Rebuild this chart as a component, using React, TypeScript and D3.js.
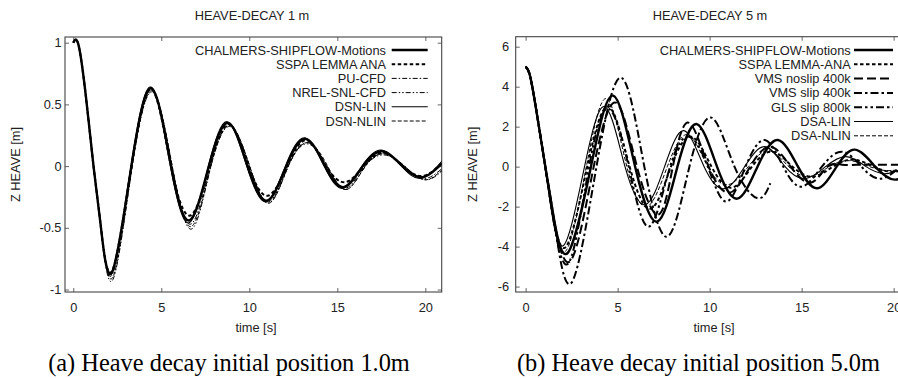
import React, { useRef, useEffect } from 'react';
import * as d3 from 'd3';

// tick values
const xTicks = [0, 5, 10, 15, 20];
const leftYTicks = [-1, -0.5, 0, 0.5, 1];
const rightYTicks = [-6, -4, -2, 0, 2, 4, 6];

// ---- HEAVE-DECAY 1 m : [time s, heave m]
const chalmers1 = [[0, 1], [0.3, 0.98], [0.72, 0.56], [1.15, 0], [1.55, -0.47], [2.2, -0.86], [3.3, 0], [4.45, 0.63], [5.55, 0], [6.6, -0.44], [7.7, 0], [8.8, 0.35], [9.9, 0], [11.0, -0.28], [12.1, 0], [13.2, 0.22], [14.3, 0], [15.35, -0.17], [16.45, 0], [17.55, 0.12], [18.7, 0], [19.8, -0.09], [20.95, 0.02]];
const sspa1 = [[0, 1], [0.3, 0.98], [0.72, 0.56], [1.15, 0], [1.55, -0.47], [2.2, -0.85], [3.3, 0], [4.45, 0.62], [5.55, 0], [6.65, -0.4], [7.75, 0], [8.85, 0.34], [9.95, 0], [11.05, -0.24], [12.15, 0], [13.25, 0.21], [14.35, 0], [15.45, -0.13], [16.5, 0], [17.6, 0.11], [18.7, 0], [19.85, -0.08], [20.95, 0.03]];
const pu1 = [[0, 1], [0.3, 0.98], [0.72, 0.56], [1.15, 0], [1.56, -0.48], [2.22, -0.88], [3.32, 0], [4.48, 0.62], [5.6, 0], [6.68, -0.47], [7.78, 0], [8.88, 0.33], [10.0, 0], [11.08, -0.29], [12.2, 0], [13.3, 0.19], [14.4, 0], [15.45, -0.18], [16.55, 0], [17.65, 0.1], [18.8, 0], [19.9, -0.1], [20.95, -0.02]];
const nrel1 = [[0, 1], [0.3, 0.98], [0.72, 0.56], [1.15, 0], [1.57, -0.5], [2.25, -0.92], [3.35, 0], [4.5, 0.6], [5.62, 0], [6.72, -0.51], [7.82, 0], [8.92, 0.32], [10.02, 0], [11.1, -0.3], [12.22, 0], [13.32, 0.18], [14.42, 0], [15.5, -0.19], [16.6, 0], [17.7, 0.09], [18.82, 0], [19.95, -0.11], [20.95, -0.04]];
const dsnLin1 = [[0, 1], [0.3, 0.98], [0.72, 0.56], [1.15, 0], [1.55, -0.47], [2.2, -0.87], [3.28, 0], [4.42, 0.64], [5.52, 0], [6.58, -0.46], [7.68, 0], [8.75, 0.36], [9.85, 0], [10.95, -0.29], [12.05, 0], [13.15, 0.23], [14.25, 0], [15.3, -0.18], [16.4, 0], [17.5, 0.13], [18.65, 0], [19.75, -0.1], [20.95, 0.04]];
const dsnNlin1 = [[0, 1], [0.3, 0.98], [0.72, 0.56], [1.15, 0], [1.57, -0.49], [2.25, -0.9], [3.35, 0], [4.5, 0.61], [5.62, 0], [6.7, -0.49], [7.82, 0], [8.92, 0.33], [10.02, 0], [11.12, -0.3], [12.22, 0], [13.35, 0.19], [14.45, 0], [15.5, -0.19], [16.6, 0], [17.7, 0.1], [18.82, 0], [19.95, -0.11], [20.95, -0.03]];

// ---- HEAVE-DECAY 5 m
const chalmers5 = [[0, 5], [0.25, 4.5], [0.6, 2.7], [1.0, 0.4], [1.5, -2.4], [2.3, -4.3], [3.55, 0], [4.75, 3.55], [5.95, 0], [7.15, -2.75], [8.25, 0], [9.3, 2.13], [10.4, 0], [11.5, -1.6], [12.6, 0], [13.7, 1.33], [14.8, 0], [15.85, -1.08], [16.9, 0], [17.9, 0.85], [19.0, 0], [20.1, -0.65], [21.2, 0.1]];
const sspa5 = [[0, 5], [0.25, 4.5], [0.6, 2.7], [1.0, 0.4], [1.45, -2.2], [2.2, -4.0], [3.35, 0], [4.5, 3.0], [5.65, 0], [6.8, -2.1], [7.9, 0], [9.0, 1.5], [10.1, 0], [11.2, -1.05], [12.3, 0], [13.4, 0.75], [14.5, 0], [15.6, -0.5], [16.7, 0], [17.8, 0.35], [18.9, 0], [20.0, -0.25], [21.2, 0.05]];
const vmsNoslip5 = [[0, 5], [0.25, 4.5], [0.6, 2.7], [1.0, 0.4], [1.5, -2.5], [2.45, -4.7], [3.7, 0], [4.9, 3.2], [6.05, 0], [7.2, -2.4], [8.0, 0], [8.85, 2.2], [9.95, 0], [11.1, -1.3], [12.2, 0], [13.3, 1.0], [14.4, 0], [15.5, -0.8], [16.4, 0], [17.2, 0.1], [18.2, 0.1], [19.2, 0.1], [20.2, 0.1], [21.2, 0.1]];
const vmsSlip5 = [[0, 5], [0.25, 4.5], [0.6, 2.7], [1.0, 0.4], [1.6, -3.0], [2.5, -5.8], [3.85, 0], [5.2, 4.45], [6.45, 0], [7.7, -3.5], [8.9, 0], [10.1, 2.45], [11.35, 0], [12.6, -1.58], [13.3, -0.83]];
const glsSlip5 = [[0, 5], [0.25, 4.5], [0.6, 2.7], [1.0, 0.4], [1.5, -2.6], [2.35, -4.8], [3.45, 0], [4.5, 2.9], [5.6, 0], [6.7, -3.0], [7.85, 0], [8.9, 1.5], [9.9, 0], [10.9, -1.75], [11.95, 0], [13.0, 1.33], [14.0, 0], [15.0, -1.0], [16.1, 0], [17.2, 0.75], [18.25, 0], [19.3, -0.6], [20.4, 0], [21.2, 0.4]];
const dsaLin5 = [[0, 5], [0.25, 4.5], [0.6, 2.7], [1.0, 0.4], [1.4, -2.2], [2.1, -3.9], [3.2, 0], [4.3, 3.0], [5.4, 0], [6.5, -1.9], [7.55, 0], [8.6, 1.8], [9.7, 0], [10.8, -1.1], [11.9, 0], [13.0, 1.0], [14.1, 0], [15.2, -0.6], [16.3, 0], [17.4, 0.5], [18.5, 0], [19.6, -0.35], [20.7, 0], [21.2, 0.1]];
const dsaNlin5 = [[0, 5], [0.25, 4.5], [0.6, 2.7], [1.0, 0.4], [1.45, -2.3], [2.2, -4.2], [3.3, 0], [4.4, 3.4], [5.5, 0], [6.6, -2.0], [7.7, 0], [8.8, 1.6], [9.9, 0], [11.0, -0.9], [12.1, 0], [13.2, 0.8], [14.3, 0], [15.4, -0.5], [16.5, 0], [17.6, 0.3], [18.7, 0], [19.8, -0.2], [21.2, 0.05]];

const leftNames = ['CHALMERS-SHIPFLOW-Motions', 'SSPA LEMMA ANA', 'PU-CFD', 'NREL-SNL-CFD', 'DSN-LIN', 'DSN-NLIN'];
const leftValues = [chalmers1, sspa1, pu1, nrel1, dsnLin1, dsnNlin1];
const rightNames = ['CHALMERS-SHIPFLOW-Motions', 'SSPA LEMMA-ANA', 'VMS noslip 400k', 'VMS slip 400k', 'GLS slip 800k', 'DSA-LIN', 'DSA-NLIN'];
const rightValues = [chalmers5, sspa5, vmsNoslip5, vmsSlip5, glsSlip5, dsaLin5, dsaNlin5];

// gnuplot-ish monochrome line styles
const leftStyles = [
  { w: 2.4, dash: null },
  { w: 2, dash: '3.5,2.5' },
  { w: 1, dash: '5,2,1.5,2' },
  { w: 1, dash: '5,2,1.5,2,1.5,2' },
  { w: 1.1, dash: null },
  { w: 1, dash: '4,2' },
];
const rightStyles = [
  { w: 2.4, dash: null },
  { w: 2, dash: '3.5,2.5' },
  { w: 2, dash: '9,4' },
  { w: 2, dash: '8,3,2.5,3' },
  { w: 2, dash: '8,3,2.5,3,2.5,3' },
  { w: 1.1, dash: null },
  { w: 1, dash: '4,2' },
];

const SANS = '"Liberation Sans", Arial, sans-serif';
const SERIF = '"Liberation Serif", "Times New Roman", serif';
const FS = 12.8;

export default function App() {
  const svgRef = useRef(null);

  useEffect(() => {
    const svg = d3.select(svgRef.current);
    svg.selectAll('*').remove();

    const panels = [
      {
        id: 'a', left: 65, right: 441.7, top: 37, bottom: 292,
        xDom: [-0.47, 20.93], yDom: [-1.02, 1.046], yTicks: leftYTicks, yPad: 3.5,
        title: 'HEAVE-DECAY 1 m', titleX: 252, ylabelX: 16, xlabelX: 256,
        caption: '(a) Heave decay initial position 1.0m', capX: 229,
        names: leftNames, values: leftValues, styles: leftStyles,
        legTextX: 386, legX0: 391.7, legX1: 427.7, legY: 50, legStep: 14.2,
      },
      {
        id: 'b', left: 515.7, right: 910.4, top: 36.7, bottom: 292,
        xDom: [-0.54, 20.91], yDom: [-6.27, 6.5], yTicks: rightYTicks, yPad: 6.5,
        title: 'HEAVE-DECAY 5 m', titleX: 710, ylabelX: 473, xlabelX: 714,
        caption: '(b) Heave decay initial position 5.0m', capX: 698.5,
        names: rightNames, values: rightValues, styles: rightStyles,
        legTextX: 850.7, legX0: 854, legX1: 893, legY: 50, legStep: 14.3,
      },
    ];

    panels.forEach(p => {
      const x = d3.scaleLinear().domain(p.xDom).range([p.left, p.right]);
      const y = d3.scaleLinear().domain(p.yDom).range([p.bottom, p.top]);
      const g = svg.append('g');

      // ticks, gnuplot style: inward on all four sides
      const bx = g.append('g')
        .attr('transform', `translate(0,${p.bottom})`)
        .call(d3.axisBottom(x).tickValues(xTicks).tickSize(-4).tickPadding(11).tickFormat(d => String(d)));
      g.append('g')
        .attr('transform', `translate(0,${p.top})`)
        .call(d3.axisTop(x).tickValues(xTicks).tickSize(-4).tickFormat(() => ''));
      const ly = g.append('g')
        .attr('transform', `translate(${p.left},0)`)
        .call(d3.axisLeft(y).tickValues(p.yTicks).tickSize(-4).tickPadding(p.yPad).tickFormat(d => String(d)));
      g.append('g')
        .attr('transform', `translate(${p.right},0)`)
        .call(d3.axisRight(y).tickValues(p.yTicks).tickSize(-4).tickFormat(() => ''));

      g.selectAll('.domain').remove();
      g.selectAll('.tick line').attr('stroke', '#555').attr('stroke-width', 0.9);
      [bx, ly].forEach(a => a.selectAll('text')
        .attr('fill', '#222')
        .style('font-family', SANS)
        .style('font-size', `${FS}px`));

      g.append('rect')
        .attr('x', p.left).attr('y', p.top)
        .attr('width', p.right - p.left).attr('height', p.bottom - p.top)
        .attr('fill', 'none').attr('stroke', '#444').attr('stroke-width', 1.1);

      // curves
      const clipId = `clip-${p.id}`;
      svg.append('clipPath').attr('id', clipId)
        .append('rect')
        .attr('x', p.left).attr('y', p.top)
        .attr('width', p.right - p.left).attr('height', p.bottom - p.top);

      const line = d3.line()
        .x(d => x(d[0]))
        .y(d => y(d[1]))
        .curve(d3.curveNatural);

      const curves = g.append('g').attr('clip-path', `url(#${clipId})`);
      p.values.forEach((vals, i) => {
        const st = p.styles[i];
        curves.append('path')
          .attr('d', line(vals))
          .attr('fill', 'none')
          .attr('stroke', '#000')
          .attr('stroke-width', st.w)
          .attr('stroke-dasharray', st.dash)
          .attr('stroke-linejoin', 'round');
      });

      // legend
      p.names.forEach((name, i) => {
        const st = p.styles[i];
        const ry = p.legY + i * p.legStep;
        g.append('text')
          .attr('x', p.legTextX).attr('y', ry + 4.5)
          .attr('text-anchor', 'end')
          .attr('fill', '#222')
          .style('font-family', SANS).style('font-size', `${FS}px`)
          .text(name);
        g.append('line')
          .attr('x1', p.legX0).attr('x2', p.legX1)
          .attr('y1', ry).attr('y2', ry)
          .attr('stroke', '#000')
          .attr('stroke-width', st.w)
          .attr('stroke-dasharray', st.dash);
      });

      // titles and labels
      g.append('text')
        .attr('x', p.titleX).attr('y', 19.5)
        .attr('text-anchor', 'middle').attr('fill', '#222')
        .style('font-family', SANS).style('font-size', `${FS}px`)
        .text(p.title);

      g.append('text')
        .attr('x', p.xlabelX).attr('y', 332)
        .attr('text-anchor', 'middle').attr('fill', '#222')
        .style('font-family', SANS).style('font-size', `${FS}px`)
        .text('time [s]');

      g.append('text')
        .attr('transform', `translate(${p.ylabelX + 4.4},${(p.top + p.bottom) / 2}) rotate(-90)`)
        .attr('text-anchor', 'middle').attr('fill', '#222')
        .style('font-family', SANS).style('font-size', `${FS}px`)
        .text('Z HEAVE [m]');

      g.append('text')
        .attr('x', p.capX).attr('y', 371)
        .attr('text-anchor', 'middle').attr('fill', '#000')
        .style('font-family', SERIF).style('font-size', '24.4px')
        .text(p.caption);
    });
  }, []);

  return (
    <svg
      ref={svgRef}
      width={898}
      height={378}
      viewBox="0 0 898 378"
      style={{ position: 'absolute', left: 0, top: 0, background: '#fff', display: 'block' }}
    />
  );
}
